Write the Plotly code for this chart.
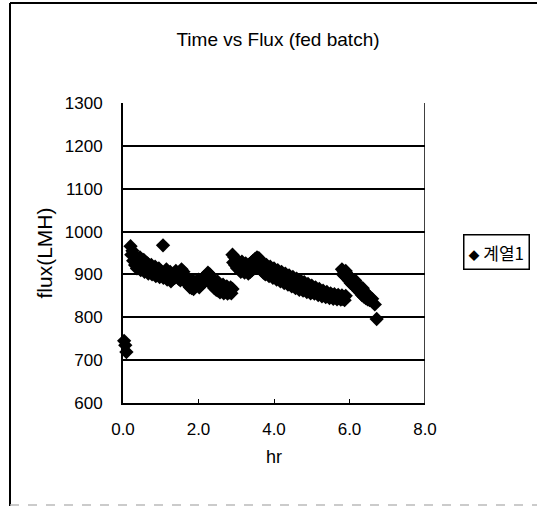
import plotly.graph_objects as go

# ---- data ----
t_start = [0.03, 0.06, 0.09]
flux_start = [745, 735, 719]

t_run1 = [0.20, 0.25, 0.30, 0.35, 0.40, 0.45, 0.50, 0.55, 0.60, 0.65, 0.70, 0.75, 0.80, 0.85,
          0.90, 0.95, 1.00, 1.06, 1.10, 1.15, 1.20, 1.25, 1.30, 1.35, 1.40, 1.45, 1.50, 1.55,
          1.60, 1.65, 1.70, 1.75, 1.80, 1.85, 1.90, 1.95, 2.00, 2.05, 2.10, 2.15, 2.20, 2.25,
          2.30, 2.35, 2.40, 2.45, 2.50, 2.55, 2.60, 2.65, 2.70, 2.75, 2.80, 2.85, 2.90]
flux_run1 = [966, 955, 945, 938, 932, 940, 928, 934, 922, 926, 918, 922, 914, 918,
             910, 914, 908, 968, 904, 912, 900, 906, 896, 902, 908, 898, 904, 912,
             906, 896, 890, 884, 880, 886, 878, 884, 888, 882, 890, 894, 898, 904,
             900, 892, 886, 880, 884, 876, 872, 876, 868, 872, 866, 870, 866]

t_run1b = [0.22, 0.27, 0.32, 0.37, 0.42, 0.47, 0.52, 0.57, 0.62, 0.67, 0.72, 0.77, 0.82, 0.87,
           0.92, 0.97, 1.02, 1.07, 1.12, 1.17, 1.22, 1.27, 1.32, 1.37, 1.42, 1.47, 1.52, 1.57,
           1.62, 1.67, 1.72, 1.77, 1.82, 1.87, 1.92, 1.97, 2.02, 2.07, 2.12, 2.17, 2.22, 2.27,
           2.32, 2.37, 2.42, 2.47, 2.52, 2.57, 2.62, 2.67, 2.72, 2.77, 2.82, 2.87]
flux_run1b = [946, 932, 922, 914, 918, 910, 916, 906, 910, 902, 908, 900, 904, 896,
              902, 894, 900, 892, 896, 888, 892, 884, 889, 892, 898, 890, 886, 894,
              890, 882, 876, 870, 868, 866, 872, 876, 870, 876, 880, 884, 888, 886,
              880, 874, 868, 864, 862, 858, 861, 856, 860, 855, 858, 856]

t_run2 = [2.90, 2.95, 3.00, 3.05, 3.10, 3.15, 3.20, 3.25, 3.30, 3.35, 3.40, 3.45, 3.50, 3.55,
          3.60, 3.65, 3.70, 3.75, 3.80, 3.85, 3.90, 3.95, 4.00, 4.05, 4.10, 4.15, 4.20, 4.25,
          4.30, 4.35, 4.40, 4.45, 4.50, 4.55, 4.60, 4.65, 4.70, 4.75, 4.80, 4.85, 4.90, 4.95,
          5.00, 5.05, 5.10, 5.15, 5.20, 5.25, 5.30, 5.35, 5.40, 5.45, 5.50, 5.55, 5.60, 5.65,
          5.70, 5.75, 5.80, 5.85, 5.90]
flux_run2 = [946, 940, 935, 930, 925, 930, 922, 926, 920, 924, 928, 932, 936, 940,
             938, 932, 925, 918, 922, 914, 918, 910, 914, 906, 910, 902, 906, 898,
             902, 895, 898, 890, 894, 886, 890, 882, 886, 878, 882, 874, 878, 870,
             874, 866, 870, 862, 866, 858, 862, 856, 859, 853, 856, 851, 854, 849,
             852, 848, 851, 847, 850]

t_run2b = [2.92, 2.97, 3.02, 3.07, 3.12, 3.17, 3.22, 3.27, 3.32, 3.37, 3.42, 3.47, 3.52, 3.57,
           3.62, 3.67, 3.72, 3.77, 3.82, 3.87, 3.92, 3.97, 4.02, 4.07, 4.12, 4.17, 4.22, 4.27,
           4.32, 4.37, 4.42, 4.47, 4.52, 4.57, 4.62, 4.67, 4.72, 4.77, 4.82, 4.87, 4.92, 4.97,
           5.02, 5.07, 5.12, 5.17, 5.22, 5.27, 5.32, 5.37, 5.42, 5.47, 5.52, 5.57, 5.62, 5.67,
           5.72, 5.77, 5.82, 5.87]
flux_run2b = [928, 922, 915, 912, 906, 910, 904, 908, 902, 906, 910, 914, 918, 922,
              918, 910, 904, 900, 902, 896, 900, 892, 896, 888, 892, 884, 888, 880,
              884, 876, 880, 872, 876, 868, 872, 864, 868, 862, 865, 859, 862, 856,
              860, 855, 858, 852, 855, 849, 852, 847, 850, 845, 848, 843, 846, 842,
              845, 841, 843, 840]

t_run3 = [5.80, 5.85, 5.90, 5.95, 6.00, 6.05, 6.10, 6.15, 6.20, 6.25, 6.30, 6.35, 6.40,
          6.45, 6.50, 6.55, 6.60, 6.67, 6.72]
flux_run3 = [912, 906, 908, 900, 895, 890, 884, 886, 878, 872, 866, 868, 860,
             855, 850, 846, 843, 830, 796]

t_run3b = [5.83, 5.88, 5.93, 5.98, 6.03, 6.08, 6.13, 6.18, 6.23, 6.28, 6.33, 6.38, 6.43,
           6.48, 6.53]
flux_run3b = [900, 896, 892, 886, 880, 876, 872, 868, 862, 858, 852, 848, 845, 842, 840]

series_name = "계열1"
chart_title = "Time vs Flux (fed batch)"
x_title = "hr"
y_title = "flux(LMH)"
x_tickvals = [0, 2, 4, 6, 8]
x_ticktext = ["0.0", "2.0", "4.0", "6.0", "8.0"]
y_tickvals = [600, 700, 800, 900, 1000, 1100, 1200, 1300]

t_all = t_start + t_run1 + t_run1b + t_run2 + t_run2b + t_run3 + t_run3b
flux_all = flux_start + flux_run1 + flux_run1b + flux_run2 + flux_run2b + flux_run3 + flux_run3b

FONT = "Liberation Sans, Arial, sans-serif"
KFONT = "Noto Sans CJK KR, " + FONT

fig = go.Figure()
fig.add_trace(go.Scatter(
    x=t_all, y=flux_all, mode="markers", name=series_name,
    marker=dict(symbol="diamond", size=11, color="black", line=dict(width=0)),
    cliponaxis=False, showlegend=False,
))

W, H = 537, 506
L, R, T, B = 123, 425, 103, 403
pw, ph = R - L, B - T


def px_x(p):
    return (p - L) / pw


def px_y(p):
    return (B - p) / ph


fig.update_layout(
    width=W, height=H,
    margin=dict(l=L, r=W - R, t=T, b=H - B, pad=0, autoexpand=False),
    paper_bgcolor="white", plot_bgcolor="white",
    font=dict(family=FONT, color="black", size=17),
    title=dict(text=chart_title, x=px_x(278), xanchor="center", xref="paper",
               y=1 - 39 / H, yanchor="middle", font=dict(size=19)),
    showlegend=False,
    xaxis=dict(range=[0, 8], tickvals=x_tickvals, ticktext=x_ticktext,
               showgrid=False, zeroline=False,
               showline=True, linecolor="black", linewidth=2,
               ticks="inside", ticklen=4, tickcolor="black",
               ticklabelstandoff=10, tickfont=dict(size=17),
               title=dict(text=x_title, standoff=12, font=dict(size=18))),
    yaxis=dict(range=[600, 1300], tickvals=y_tickvals,
               showgrid=True, gridcolor="black", gridwidth=1.5,
               zeroline=False,
               showline=True, linecolor="black", linewidth=2,
               ticks="", ticklabelstandoff=15, tickfont=dict(size=17),
               title=dict(text=y_title, standoff=6, font=dict(size=21))),
    annotations=[
        # legend box (series marker + name)
        dict(text="<span style='font-size:11px'>◆</span> " + series_name,
             xref="paper", yref="paper",
             x=px_x(496), y=px_y(252), xanchor="center", yanchor="middle",
             showarrow=False, font=dict(family=KFONT, size=17, color="black"),
             bordercolor="black", borderwidth=1.5, borderpad=4, bgcolor="white"),
    ],
    shapes=[
        # right border of plot area
        dict(type="line", xref="x", yref="paper", x0=8, x1=8, y0=0, y1=1,
             line=dict(color="black", width=1.5)),
        # outer chart frame: left and top
        dict(type="line", xref="paper", yref="paper", x0=px_x(10), x1=px_x(10),
             y0=px_y(3), y1=px_y(506), line=dict(color="black", width=2)),
        dict(type="line", xref="paper", yref="paper", x0=px_x(10), x1=px_x(537),
             y0=px_y(3), y1=px_y(3), line=dict(color="black", width=2)),
        dict(type="line", xref="paper", yref="paper", x0=px_x(10), x1=px_x(537),
             y0=px_y(505), y1=px_y(505), line=dict(color="#bbbbbb", width=1.5, dash="dash")),
    ],
)

fig.write_html("out.html")
